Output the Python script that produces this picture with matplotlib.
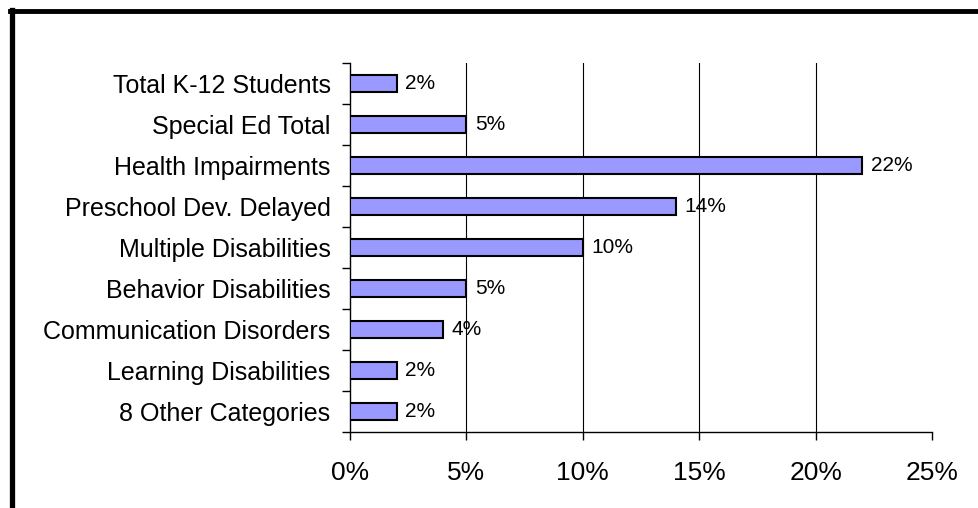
import matplotlib
matplotlib.use("Agg")
import matplotlib.pyplot as plt
from matplotlib.lines import Line2D

categories = ["Total K-12 Students", "Special Ed Total", "Health Impairments",
              "Preschool Dev. Delayed", "Multiple Disabilities", "Behavior Disabilities",
              "Communication Disorders", "Learning Disabilities", "8 Other Categories"]
values = [2, 5, 22, 14, 10, 5, 4, 2, 2]
xticks = [0, 5, 10, 15, 20, 25]
xtick_labels = ["0%", "5%", "10%", "15%", "20%", "25%"]

plt.rcParams['font.family'] = ['Liberation Sans', 'DejaVu Sans']

fig = plt.figure(figsize=(9.79, 5.08), dpi=100)
ax = fig.add_axes([0.3575, 0.150, 0.952 - 0.3575, 0.8766 - 0.150])

n = len(categories)
ypos = list(range(n))
ax.barh(ypos, values, height=0.42, color="#9999FF", edgecolor="black", linewidth=1.5, zorder=3)
for y, v in zip(ypos, values):
    ax.text(v + 0.38, y, f"{v}%", va="center", ha="left", fontsize=15, zorder=4)

ax.set_xlim(0, 25)
ax.set_ylim(n - 0.5, -0.5)
ax.set_xticks(xticks)
ax.set_xticklabels(xtick_labels, fontsize=19)
ax.set_yticks(ypos)
ax.set_yticklabels(categories, fontsize=18)
ax.tick_params(axis='y', length=0, pad=14)
ax.set_yticks([i - 0.5 for i in range(n + 1)], minor=True)
ax.tick_params(axis='y', which='minor', length=6, width=1, direction='out')
ax.tick_params(axis='x', length=6, width=1, direction='out', pad=15)

for xv in xticks[1:-1]:
    ax.axvline(xv, color="black", linewidth=0.8, zorder=1)

for s in ["top", "right"]:
    ax.spines[s].set_visible(False)
ax.spines["left"].set_linewidth(1)
ax.spines["bottom"].set_linewidth(1)

# outer frame lines
fig.add_artist(Line2D([10/979, 1.0], [1 - 11/508, 1 - 11/508], color="black", linewidth=3.5, transform=fig.transFigure))
fig.add_artist(Line2D([12.5/979, 12.5/979], [0, 1 - 9.5/508], color="black", linewidth=3.8, transform=fig.transFigure))

fig.savefig("out.png", dpi=100)
